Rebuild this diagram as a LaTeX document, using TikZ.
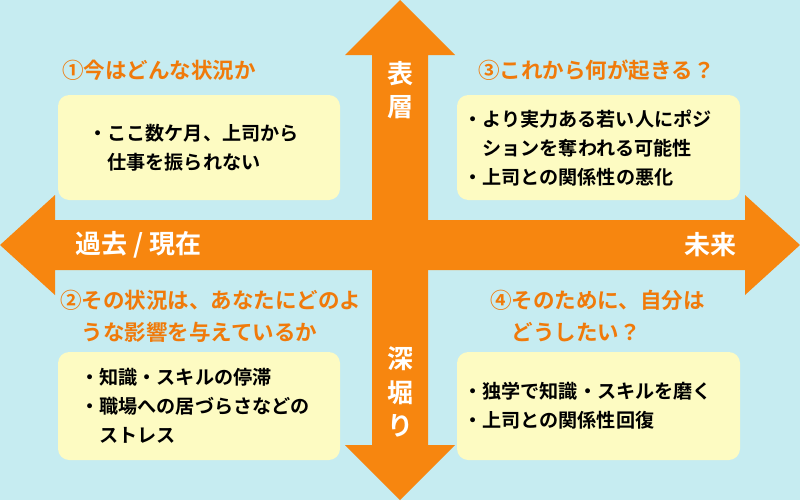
\documentclass[tikz,border=0pt]{standalone}
\usepackage{fontspec}
\setmainfont{Noto Sans CJK JP}[BoldFont={Noto Sans CJK JP Bold}]
\definecolor{bgcyan}{HTML}{C6ECF1}
\definecolor{arroworange}{HTML}{F7860F}
\definecolor{titleorange}{HTML}{F07A0A}
\definecolor{boxyellow}{HTML}{FDFBC2}
\begin{document}
\begin{tikzpicture}[x=0.025cm,y=-0.025cm,
        title/.style={anchor=west,text=titleorange,font=\fontsize{15.3}{23}\selectfont\bfseries,inner sep=0pt},
        boxtext/.style={anchor=west,align=left,font=\fontsize{13.6}{20.5}\selectfont\bfseries,inner sep=0pt},
        axis/.style={text=white,font=\fontsize{18.5}{24}\selectfont\bfseries,inner sep=0pt},
        card/.style={fill=boxyellow,rounded corners=8pt}]

    \fill[bgcyan] (0,0) rectangle (800,500);
    \fill[arroworange] (0,245) -- (55,195) -- (55,220) -- (745,220) -- (745,195) -- (800,245)
        -- (745,295) -- (745,270) -- (55,270) -- (55,295) -- cycle;
    \fill[arroworange] (400,0) -- (455,55) -- (428,55) -- (428,445) -- (455,445) -- (400,500)
        -- (345,445) -- (372,445) -- (372,55) -- (345,55) -- cycle;

    \fill[card] (58,95) rectangle (340,200);
    \fill[card] (457,95) rectangle (740,200);
    \fill[card] (58,352) rectangle (340,460);
    \fill[card] (457,352) rectangle (740,460);

    % titles
    \node[title] (t1) at (62,70) {①今はどんな状況か};
    \node[title] (t3) at (478,70) {③これから何が起きる？};
    \node[title,align=left] (t2) at (60,316) {②その状況は、あなたにどのよ\\\hspace{1em}うな影響を与えているか};
    \node[title,align=left] (t4) at (490,316) {④そのために、自分は\\\hspace{1em}どうしたい？};

    % box texts
    \node[boxtext] (b1) at (88,148) {・ここ数ケ月、上司から\\\hspace{1em}仕事を振られない};
    \node[boxtext] (b3) at (463,148) {・より実力ある若い人にポジ\\\hspace{1em}ションを奪われる可能性\\・上司との関係性の悪化};
    \node[boxtext] (b2) at (80,406) {・知識・スキルの停滞\\・職場への居づらさなどの\\\hspace{1em}ストレス};
    \node[boxtext] (b4) at (463,406) {・独学で知識・スキルを磨く\\・上司との関係性回復};

    % axis labels
    \node[axis,anchor=west] (past) at (75,245) {過去 / 現在};
    \node[axis,anchor=east] (future) at (737,245) {未来};
    \node[axis,align=center] (surface) at (400,90) {表\\層};
    \node[axis,align=center] (deep) at (400,392) {深\\堀\\り};
\end{tikzpicture}
\end{document}
